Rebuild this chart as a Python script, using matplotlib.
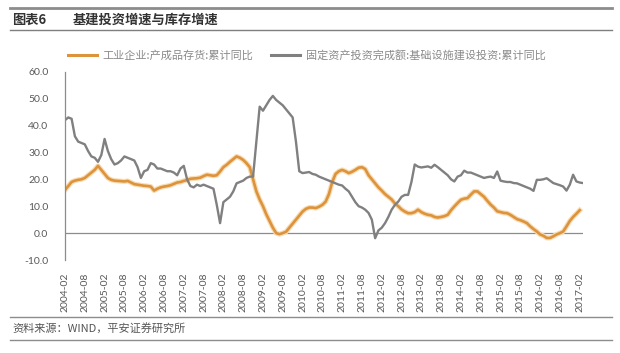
import numpy as np
import pandas as pd
import matplotlib
matplotlib.use('Agg')
import matplotlib.pyplot as plt
import matplotlib.patheffects as pe

plt.rcParams['font.family'] = ['Noto Sans CJK SC', 'DejaVu Sans']

TITLE_NO = '图表6'
TITLE = '基建投资增速与库存增速'
SOURCE = '资料来源：WIND，平安证券研究所'
LABEL_INV = '工业企业:产成品存货:累计同比'
LABEL_INFRA = '固定资产投资完成额:基础设施建设投资:累计同比'

# monthly categories, 2004-02 .. 2017-03
months = pd.date_range('2004-02-01', periods=158, freq='MS').strftime('%Y-%m').tolist()

# 工业企业:产成品存货:累计同比 (%)
inventory = [
    16.0, 17.5, 19.0, 19.5, 19.8, 20.0, 20.5, 21.5, 22.5, 23.5, 25.0, 23.5,
    22.0, 20.5, 19.8, 19.5, 19.4, 19.3, 19.2, 19.4, 18.8, 18.2, 18.0, 17.8,
    17.6, 17.5, 17.3, 15.8, 16.5, 17.0, 17.3, 17.5, 17.8, 18.3, 18.8, 19.0,
    19.4, 19.7, 20.2, 20.3, 20.4, 20.6, 21.2, 21.7, 21.5, 21.3, 21.5, 22.9,
    24.5, 25.4, 26.5, 27.5, 28.5, 28.0, 27.2, 26.0, 24.5, 20.0, 15.5, 12.5,
    10.0, 7.0, 4.5, 2.0, 0.0, -0.4, 0.0, 0.5, 2.0, 3.5, 5.0, 6.5,
    8.0, 9.0, 9.5, 9.5, 9.3, 9.8, 10.5, 11.7, 14.5, 19.0, 22.0, 23.0,
    23.5, 23.0, 22.3, 22.8, 23.5, 24.3, 24.5, 23.8, 21.5, 20.0, 18.5, 17.0,
    15.8, 14.5, 13.5, 12.5, 11.0, 10.0, 8.8, 8.0, 7.4, 7.4, 7.8, 8.7,
    7.8, 7.2, 6.8, 6.6, 6.0, 5.8, 6.0, 6.3, 6.8, 8.5, 9.9, 11.2,
    12.4, 12.8, 13.0, 14.3, 15.5, 15.5, 14.5, 13.5, 12.0, 10.6, 9.5, 8.1,
    7.8, 7.5, 7.4, 6.8, 6.0, 5.2, 4.8, 4.3, 3.7, 2.5, 1.5, 0.6,
    -0.5, -1.0, -1.8, -1.8, -1.2, -0.5, 0.0, 0.6, 2.5, 4.5, 6.0, 7.2,
    8.5,
]

# 固定资产投资完成额:基础设施建设投资:累计同比 (%)
infra = [
    42.0, 43.0, 42.5, 36.0, 34.0, 33.5, 33.0, 30.5, 28.5, 28.0, 26.5, 29.0,
    35.0, 30.5, 27.5, 25.5, 26.0, 27.0, 28.5, 28.0, 27.5, 27.0, 24.5, 20.5,
    23.0, 23.5, 26.0, 25.5, 24.0, 24.0, 23.5, 23.0, 23.0, 22.5, 21.5, 24.0,
    25.0, 20.0, 17.5, 17.0, 18.0, 17.5, 18.0, 17.5, 17.0, 16.5, 10.5, 3.7,
    11.5, 12.5, 13.5, 15.5, 18.5, 19.0, 19.5, 20.5, 21.0, 21.0, 34.0, 47.0,
    45.5, 47.5, 49.5, 51.0, 49.5, 48.5, 47.5, 46.0, 44.5, 43.0, 34.0, 23.0,
    22.3, 22.5, 22.7, 22.0, 21.7, 21.0, 20.5, 20.0, 19.5, 19.0, 18.5, 18.0,
    17.7, 16.5, 15.5, 13.5, 11.5, 10.0, 9.5, 8.7, 7.5, 5.0, -1.9, 1.0,
    2.0, 3.7, 6.0, 8.7, 10.5, 11.7, 13.5, 14.2, 14.2, 19.0, 25.5, 24.7,
    24.4, 24.6, 24.8, 24.3, 25.4, 24.5, 23.5, 22.5, 21.5, 20.0, 19.2, 21.0,
    21.5, 23.2, 22.5, 22.5, 22.0, 21.5, 21.0, 20.5, 20.8, 21.0, 20.5, 22.9,
    19.5, 19.2, 19.0, 19.0, 18.6, 18.5, 18.0, 17.5, 17.0, 16.5, 15.7, 19.8,
    19.8, 20.0, 20.4, 19.5, 18.6, 18.2, 17.8, 17.3, 15.8, 18.0, 21.7, 19.2,
    18.8, 18.6,
]

W, H = 620, 353
fig = plt.figure(figsize=(W / 100, H / 100), dpi=100)


def fx(px):
    return px / W


def fy(py):
    return 1 - py / H


# header / footer rules
for y, c, lw in [(8, '#8c8c8c', 2.0), (30, '#7f7f7f', 1.0),
                 (317, '#8c8c8c', 1.0), (340, '#8c8c8c', 1.0)]:
    fig.add_artist(plt.Line2D([fx(10), fx(612)], [fy(y), fy(y)],
                              color=c, lw=lw))

fig.text(fx(12), fy(19.5), TITLE_NO, fontsize=9.5, fontweight='bold',
         color='#333333', va='center')
fig.text(fx(73), fy(19.5), TITLE, fontsize=9.5, fontweight='bold',
         color='#333333', va='center')
fig.text(fx(12), fy(328.5), SOURCE, fontsize=8, color='#555555', va='center')

ax = fig.add_axes([fx(65), fy(260), fx(583 - 65), (260 - 71.7) / H])

x = np.arange(len(months))
glow = [pe.Stroke(linewidth=3.6, foreground='#f7dcb4'), pe.Normal()]
ax.plot(x[:len(inventory)], inventory, color='#DD933C', lw=1.9,
        label=LABEL_INV, path_effects=glow, solid_joinstyle='round')
ax.plot(x[:len(infra)], infra, color='#808080', lw=1.7,
        label=LABEL_INFRA, solid_joinstyle='round')
ax.axhline(0, color='#8c8c8c', lw=0.9, zorder=1)

ax.set_xlim(0, len(months) - 1)
ax.set_ylim(-10, 60)
ax.set_yticks(np.arange(-10, 61, 10))
ax.set_yticklabels([f'{v:.1f}' for v in np.arange(-10, 61, 10)])
ticks = x[::6]
ax.set_xticks(ticks)
ax.set_xticklabels([months[i] for i in ticks], rotation=90)
ax.tick_params(axis='both', length=0, colors='#595959', labelsize=7.5)
ax.tick_params(axis='x', pad=9)
ax.tick_params(axis='y', pad=12)
for lab in ax.get_xticklabels() + ax.get_yticklabels():
    lab.set_family(['Lato', 'DejaVu Sans'])

for s in ['top', 'right', 'bottom']:
    ax.spines[s].set_visible(False)
ax.spines['left'].set_color('#8c8c8c')
ax.spines['left'].set_linewidth(0.9)

leg = fig.legend(loc='center left', bbox_to_anchor=(fx(58), fy(55)),
                 ncol=2, frameon=False, fontsize=8, handlelength=2.6,
                 columnspacing=1.6, handletextpad=0.5, labelcolor='#8a8a8a')
for h in leg.get_lines():
    h.set_path_effects([])
    h.set_linewidth(2.2)

fig.savefig('out.png', dpi=100)
